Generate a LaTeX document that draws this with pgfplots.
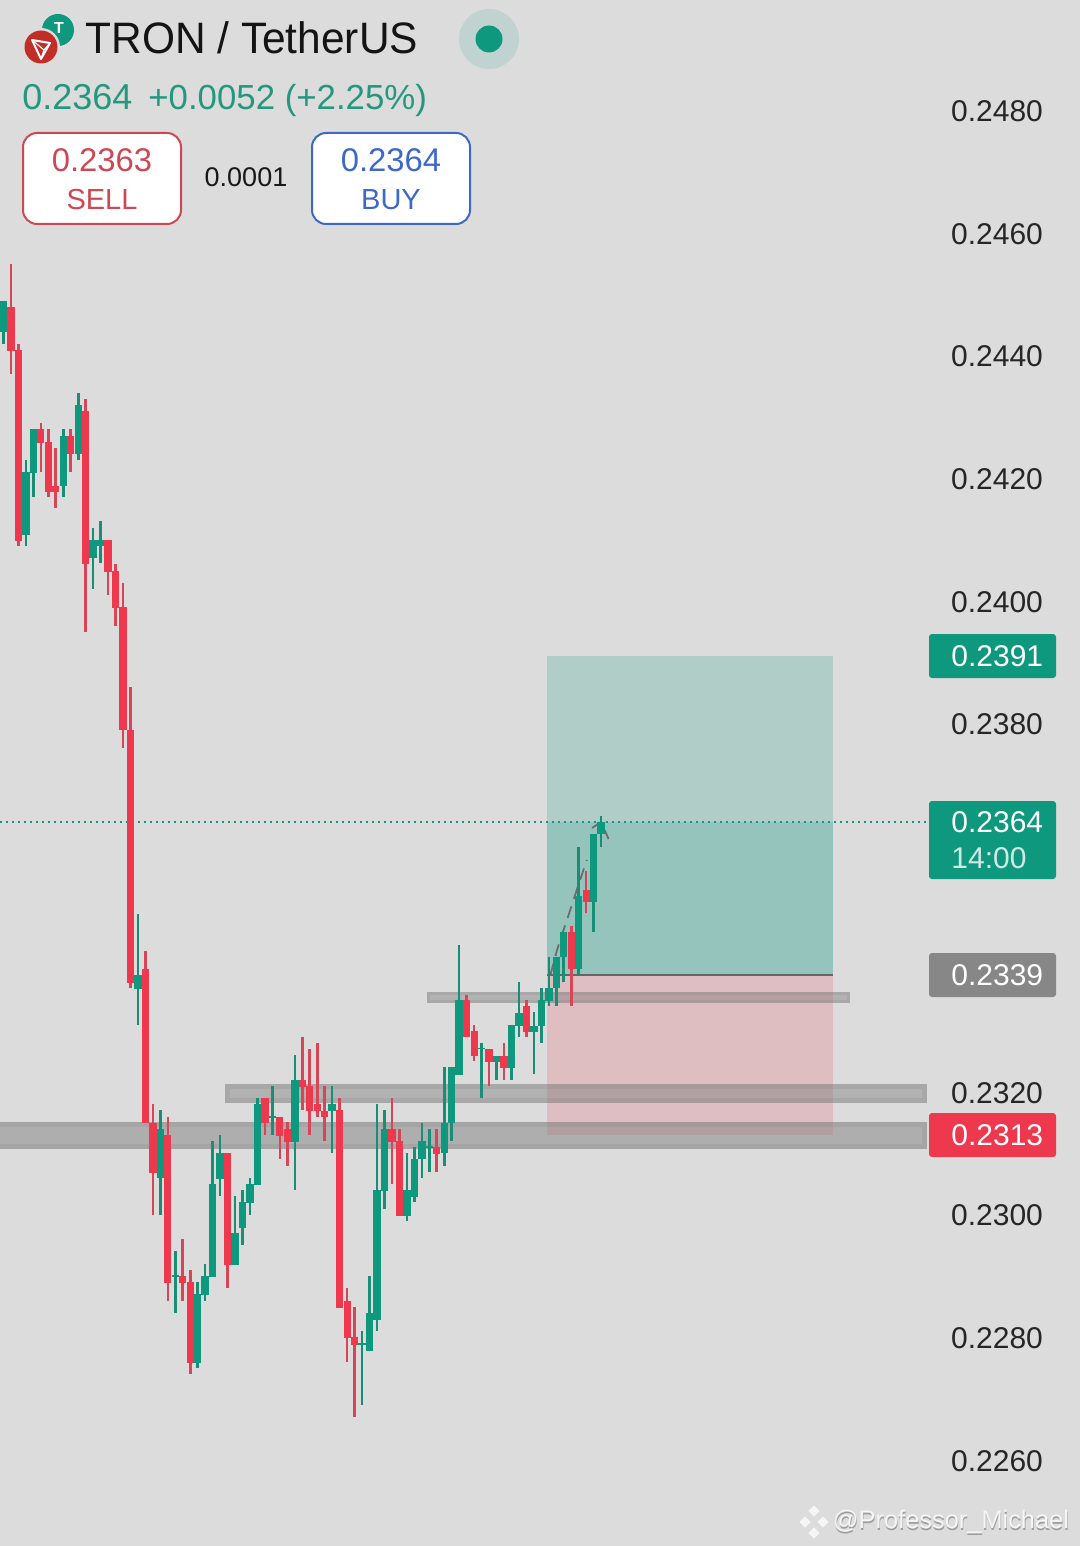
\documentclass[border=0pt]{standalone}
\usepackage{pgfplots}
\usepackage{pgfplotstable}
\usepackage{fontspec}
\setmainfont{Liberation Sans}
\pgfplotsset{compat=1.18}
\definecolor{bgc}{RGB}{220,220,220}
\definecolor{upc}{RGB}{14,152,126}
\definecolor{dnc}{RGB}{238,56,78}
\definecolor{upw}{RGB}{24,142,118}
\definecolor{dnw}{RGB}{214,70,86}
\definecolor{txtg}{RGB}{36,152,126}
\definecolor{sellc}{RGB}{206,72,84}
\definecolor{buyc}{RGB}{62,104,200}
\definecolor{bandf}{RGB}{120,120,120}
\definecolor{tronc}{RGB}{195,45,40}
\pgfplotstableread{
i h t b l
1 0.245491 0.244790 0.244073 0.243698
2 0.244187 0.244089 0.240977 0.240895
5 0.242900 0.242802 0.242574 0.242101
6 0.242802 0.242590 0.241775 0.241694
7 0.242492 0.241873 0.241775 0.241515
9 0.242802 0.242688 0.242395 0.242101
11 0.243291 0.243095 0.240602 0.239494
14 0.240993 0.240993 0.240472 0.240097
15 0.240602 0.240488 0.239885 0.239592
16 0.240292 0.239901 0.237897 0.237604
17 0.238598 0.237897 0.233774 0.233693
19 0.234295 0.234002 0.231493 0.231493
20 0.231802 0.231493 0.230678 0.229993
22 0.231590 0.231297 0.228885 0.228592
24 0.229602 0.228999 0.228885 0.228592
25 0.229097 0.228902 0.227582 0.227402
30 0.231004 0.231004 0.229179 0.228804
35 0.231900 0.231900 0.231493 0.231297
37 0.231590 0.231590 0.231281 0.230906
38 0.231509 0.231395 0.231183 0.230792
40 0.232894 0.232193 0.232079 0.231704
41 0.232698 0.232096 0.231688 0.231297
42 0.232796 0.231802 0.231688 0.231590
43 0.232096 0.231688 0.231590 0.231199
45 0.231900 0.231704 0.228478 0.228478
46 0.228804 0.228592 0.227989 0.227598
47 0.228494 0.228005 0.227875 0.226702
52 0.231900 0.231395 0.231183 0.230499
53 0.231395 0.231199 0.229977 0.229977
58 0.231395 0.231102 0.230987 0.230694
62 0.233578 0.233497 0.232894 0.232894
63 0.233090 0.232992 0.232584 0.232503
65 0.232698 0.232698 0.232487 0.232096
67 0.232796 0.232584 0.232389 0.232193
70 0.233497 0.233399 0.232975 0.232894
76 0.234703 0.234605 0.234002 0.233399
78 0.235599 0.235290 0.235094 0.234915
}\reddata
\pgfplotstableread{
i h t b l
0 0.244888 0.244888 0.244383 0.244187
3 0.242297 0.242101 0.241075 0.240895
4 0.242802 0.242802 0.242085 0.241694
8 0.242802 0.242688 0.241873 0.241694
10 0.243389 0.243193 0.242395 0.242297
12 0.241189 0.240993 0.240700 0.240195
13 0.241303 0.240993 0.240895 0.240618
18 0.234898 0.233904 0.233676 0.233090
21 0.231704 0.231395 0.230596 0.229993
23 0.229407 0.229016 0.228983 0.228396
26 0.228902 0.228706 0.227582 0.227500
27 0.229195 0.228999 0.228690 0.228592
28 0.231199 0.230499 0.228983 0.228983
29 0.231297 0.231004 0.230580 0.230303
31 0.230303 0.229700 0.229179 0.229179
32 0.230401 0.230205 0.229782 0.229505
33 0.230596 0.230499 0.230189 0.229993
34 0.231900 0.231802 0.230482 0.230482
36 0.232096 0.231607 0.231574 0.231297
39 0.232601 0.232193 0.231183 0.230401
44 0.232096 0.231802 0.231688 0.231004
48 0.228103 0.227908 0.227875 0.226897
49 0.228999 0.228396 0.227777 0.227777
50 0.231802 0.230401 0.228282 0.228103
51 0.231704 0.231395 0.230384 0.230091
54 0.231004 0.230401 0.229977 0.229896
55 0.231102 0.230906 0.230287 0.230205
56 0.231493 0.231199 0.230906 0.230596
57 0.231395 0.231118 0.231085 0.230694
59 0.232405 0.231493 0.231004 0.230792
60 0.232405 0.232405 0.231493 0.231199
61 0.234393 0.233497 0.232275 0.232275
64 0.232796 0.232715 0.232698 0.231900
66 0.232584 0.232584 0.232487 0.232193
68 0.233090 0.233090 0.232389 0.232193
69 0.233790 0.233285 0.233073 0.232894
71 0.233301 0.233073 0.232975 0.232291
72 0.233693 0.233497 0.233073 0.232796
73 0.234198 0.233693 0.233481 0.233399
74 0.234198 0.234198 0.233693 0.233399
75 0.234605 0.234605 0.234198 0.233790
77 0.235990 0.235192 0.234002 0.233904
79 0.236202 0.236202 0.235094 0.234605
80 0.236495 0.236398 0.236202 0.235990
}\greendata
\newcommand{\fs}[1]{\fontsize{#1}{#1}\selectfont}
\begin{document}
\begin{tikzpicture}
\useasboundingbox (0,0) rectangle (540pt,-773pt);
\fill[bgc] (0,0) rectangle (540pt,-773pt);
\begin{axis}[
  at={(0,0)}, anchor=north west, scale only axis,
  width=540pt, height=773pt,
  xmin=-0.4685, xmax=144.11, ymin=0.224599, ymax=0.249793,
  axis line style={draw=none}, xtick=\empty,
  ytick={0.226,0.228,0.230,0.232,0.238,0.240,0.242,0.244,0.246,0.248},
  yticklabel pos=right, major tick length=0pt,
  ytick style={draw=none},
  yticklabel style={anchor=east, xshift=-15pt, yshift=-0.5pt, text=black!85, font=\fs{15}},
  scaled y ticks=false,
  y tick label style={/pgf/number format/.cd, fixed, fixed zerofill, precision=4, assume math mode=true},
  clip=false,
]
% zones
\addplot[fill=upc, fill opacity=0.21, draw=none] coordinates {(72.76,0.2391)(111.04,0.2391)(111.04,0.233904)(72.76,0.233904)} -- cycle;
\addplot[fill=upc, fill opacity=0.17, draw=none] coordinates {(72.76,0.2364)(111.04,0.2364)(111.04,0.233904)(72.76,0.233904)} -- cycle;
\addplot[fill=dnc, fill opacity=0.18, draw=none] coordinates {(72.76,0.233904)(111.04,0.233904)(111.04,0.231297)(72.76,0.231297)} -- cycle;
% bands: outer fill, then a stroke that stays inside it
\addplot[fill=bandf, fill opacity=0.42, draw=none] coordinates {(56.69,0.233627)(113.32,0.233627)(113.32,0.233448)(56.69,0.233448)} -- cycle;
\addplot[draw=bandf, draw opacity=0.16, line width=1.5pt, fill=none] coordinates {(56.89,0.233602)(113.12,0.233602)(113.12,0.233473)(56.89,0.233473)} -- cycle;
\addplot[fill=bandf, fill opacity=0.42, draw=none] coordinates {(29.65,0.232128)(123.63,0.232128)(123.63,0.231819)(29.65,0.231819)} -- cycle;
\addplot[draw=bandf, draw opacity=0.16, line width=2.5pt, fill=none] coordinates {(29.98,0.232087)(123.3,0.232087)(123.3,0.231860)(29.98,0.231860)} -- cycle;
\addplot[fill=bandf, fill opacity=0.45, draw=none] coordinates {(-0.47,0.231509)(123.63,0.231509)(123.63,0.231069)(-0.47,0.231069)} -- cycle;
\addplot[draw=bandf, draw opacity=0.16, line width=2.5pt, fill=none] coordinates {(-3,0.231468)(123.3,0.231468)(123.3,0.231110)(-3,0.231110)} -- cycle;
\addplot[draw=gray!80!black, line width=0.6pt] coordinates {(72.76,0.233904)(111.04,0.233904)};
% last price line
\addplot[draw=upc, line width=0.8pt, dash pattern=on 1pt off 2pt] coordinates {(-0.47,0.2364)(123.63,0.2364)};
% forecast path
\addplot[draw=gray!85!black, line width=0.9pt, dash pattern=on 6pt off 4pt] coordinates {(73.2,0.2339)(74.1,0.23431)(75.2,0.23472)(76.1,0.23505)(77.2,0.23546)(78.1,0.23578)};
\addplot[draw=gray!85!black, line width=0.9pt, dash pattern=on 6pt off 4pt] coordinates {(78.8,0.23630)(80,0.2364)(81,0.23612)};
% candles: red
\addplot[draw=none, mark=none, error bars/.cd, y dir=both, y explicit, error mark=none, error bar style={line width=1.3pt, color=dnw}]
  table[x=i, y=t, y error plus expr=\thisrow{h}-\thisrow{t}, y error minus expr=\thisrow{t}-\thisrow{l}] {\reddata};
\addplot[draw=none, mark=none, error bars/.cd, y dir=both, y explicit, error mark=none, error bar style={line width=3.6pt, color=dnc}]
  table[x=i, y=t, y error plus expr=0, y error minus expr=\thisrow{t}-\thisrow{b}] {\reddata};
% candles: green
\addplot[draw=none, mark=none, error bars/.cd, y dir=both, y explicit, error mark=none, error bar style={line width=1.3pt, color=upw}]
  table[x=i, y=t, y error plus expr=\thisrow{h}-\thisrow{t}, y error minus expr=\thisrow{t}-\thisrow{l}] {\greendata};
\addplot[draw=none, mark=none, error bars/.cd, y dir=both, y explicit, error mark=none, error bar style={line width=3.7pt, color=upc}]
  table[x=i, y=t, y error plus expr=0, y error minus expr=\thisrow{t}-\thisrow{b}] {\greendata};
\end{axis}
\begin{scope}[x=0.5pt,y=-0.5pt]
% icons
\fill[upc] (58,30) circle (16);
\node[white, font=\bfseries\fs{8}] at (59,28) {T};
\fill[bgc] (41,47) circle (19);
\fill[tronc] (41,47) circle (16.5);
\draw[white, line width=1pt, line join=round] (32,40) -- (50,43) -- (41,59) -- cycle;
\draw[white, line width=0.6pt] (32,40) -- (44,50) -- (41,59) (44,50) -- (50,43);
% title
\node[anchor=west, text=black!92, inner sep=0pt] at (85,38) {\scalebox{0.965}[1]{\fs{22}TRON / TetherUS}};
% status dot
\fill[upc!13!bgc] (489,39) circle (30);
\fill[upc] (489,39) circle (13.5);
% change
\node[anchor=base west, text=txtg, inner sep=0pt] at (22,110) {\fs{18}0.2364};
\node[anchor=base west, text=txtg, inner sep=0pt] at (148,110) {\fs{17.4}+0.0052 (+2.25\%)};
% buttons
\draw[sellc, fill=white, line width=1pt, rounded corners=7pt] (23,133) rectangle (181,224);
\draw[buyc, fill=white, line width=1pt, rounded corners=7pt] (312,133) rectangle (470,224);
\node[text=sellc] at (102,160) {\fs{16.4}0.2363};
\node[text=sellc] at (102,200) {\fs{14.5}SELL};
\node[text=buyc] at (391,160) {\fs{16.4}0.2364};
\node[text=buyc] at (391,200) {\fs{14.5}BUY};
\node[text=black!90] at (246,177) {\fs{13.5}0.0001};
% price tags
\fill[upc, rounded corners=1.5pt] (929,634) rectangle (1056,678);
\fill[upc, rounded corners=1.5pt] (929,801) rectangle (1056,879);
\fill[black!47, rounded corners=1.5pt] (929,953) rectangle (1056,997);
\fill[dnc, rounded corners=1.5pt] (929,1113) rectangle (1056,1157);
\node[anchor=west, text=white, inner sep=0pt] at (951,656) {\fs{15}0.2391};
\node[anchor=west, text=white, inner sep=0pt] at (951,822) {\fs{15}0.2364};
\node[anchor=west, text=white!80!upc, inner sep=0pt] at (951,858) {\fs{15}14:00};
\node[anchor=west, text=white, inner sep=0pt] at (951,975) {\fs{15}0.2339};
\node[anchor=west, text=white, inner sep=0pt] at (951,1135) {\fs{15}0.2313};
% watermark
\begin{scope}[shift={(814,1522)}]
\foreach \a/\b in {0/-11,-9/0,9/0,0/11}{
  \fill[white!96!black, rotate around={45:(\a,\b)}] (\a-4,\b-4) rectangle (\a+4,\b+4);
}
\end{scope}
\node[anchor=west, text=black!38, inner sep=0pt] at (833,1523.5) {\fs{12.7}@Professor\_Michael};
\node[anchor=west, text=white!96!black, inner sep=0pt] at (832.5,1522) {\fs{12.7}@Professor\_Michael};
\end{scope}
\end{tikzpicture}
\end{document}
